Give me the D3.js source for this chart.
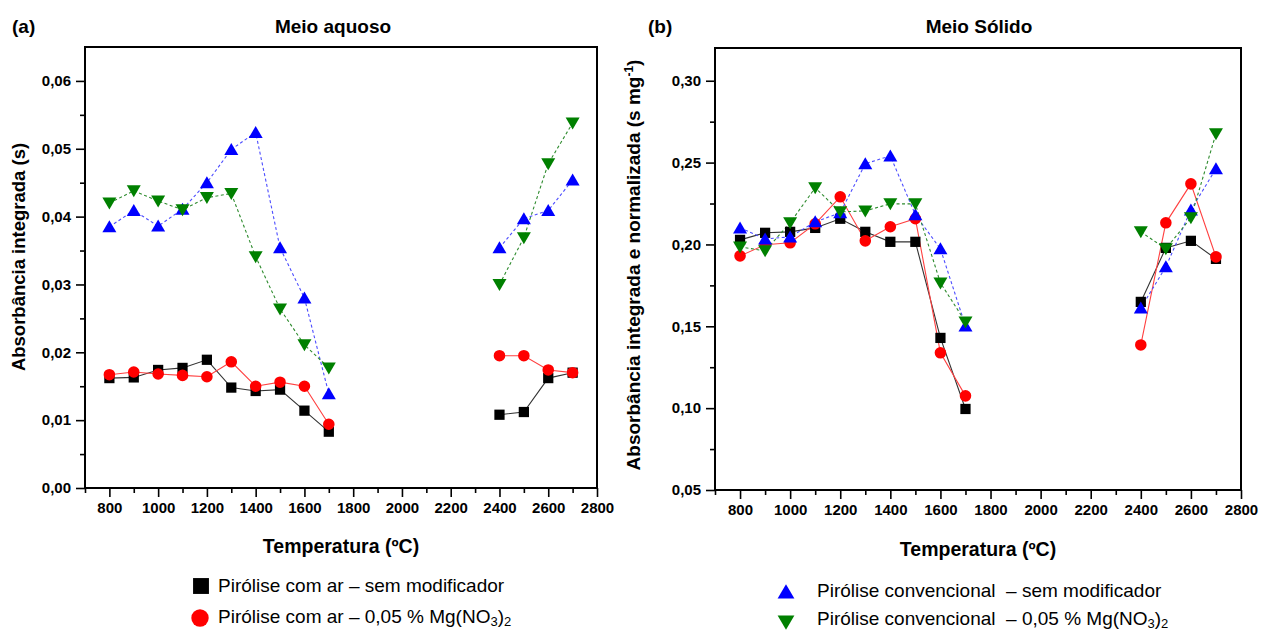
<!DOCTYPE html>
<html>
<head>
<meta charset="utf-8">
<script src="https://cdn.jsdelivr.net/npm/d3@7"></script>
<style>
  html, body { margin: 0; padding: 0; background: #fff; }
  svg { display: block; font-family: "Liberation Sans", Arial, sans-serif; }
  text { white-space: pre; }
</style>
</head>
<body>
<svg id="chart" width="1264" height="630"></svg>
<script>
// ---------- DATA ----------
const temperatures = [800, 900, 1000, 1100, 1200, 1300, 1400, 1500, 1600, 1700, 2400, 2500, 2600, 2700];
const xTickValues = [800, 1000, 1200, 1400, 1600, 1800, 2000, 2200, 2400, 2600, 2800];

// (a) Meio aquoso
const aqArSem    = [0.0162, 0.0163, 0.0174, 0.0177, 0.0189, 0.0148, 0.0143, 0.0145, 0.0114, 0.0083, 0.0108, 0.0112, 0.0162, 0.0170];
const aqArMg     = [0.0167, 0.0171, 0.0168, 0.0166, 0.0164, 0.0186, 0.0150, 0.0156, 0.0150, 0.0094, 0.0195, 0.0195, 0.0174, 0.0170];
const aqConvSem  = [0.0385, 0.0409, 0.0386, 0.0411, 0.0450, 0.0499, 0.0524, 0.0354, 0.0280, 0.0139, 0.0354, 0.0397, 0.0409, 0.0454];
const aqConvMg   = [0.0420, 0.0438, 0.0423, 0.0410, 0.0428, 0.0434, 0.0341, 0.0264, 0.0211, 0.0177, 0.0300, 0.0369, 0.0478, 0.0538];
const aqYTicks   = [0.00, 0.01, 0.02, 0.03, 0.04, 0.05, 0.06];

// (b) Meio Sólido
const solArSem   = [0.2028, 0.2071, 0.2077, 0.2101, 0.2157, 0.2077, 0.2016, 0.2016, 0.1429, 0.0995, 0.1649, 0.1979, 0.2022, 0.1912];
const solArMg    = [0.1930, 0.1998, 0.2010, 0.2126, 0.2291, 0.2022, 0.2108, 0.2157, 0.1338, 0.1075, 0.1386, 0.2132, 0.2370, 0.1924];
const solConvSem = [0.2101, 0.2034, 0.2046, 0.2138, 0.2193, 0.2493, 0.2541, 0.2181, 0.1973, 0.1502, 0.1612, 0.1863, 0.2211, 0.2462];
const solConvMg  = [0.1985, 0.1961, 0.2132, 0.2346, 0.2199, 0.2205, 0.2248, 0.2248, 0.1765, 0.1527, 0.2077, 0.1973, 0.2163, 0.2676];
const solYTicks  = [0.05, 0.10, 0.15, 0.20, 0.25, 0.30];

const seriesNames = [
  "Pirólise com ar – sem modificador",
  "Pirólise com ar – 0,05 % Mg(NO3)2",
  "Pirólise convencional  – sem modificador",
  "Pirólise convencional  – 0,05 % Mg(NO3)2"
];

// ---------- STYLES ----------
const styles = [
  { marker: "square",   fill: "#000000", line: "#333333", dash: null,    legendScale: 1.55 },
  { marker: "circle",   fill: "#ff0000", line: "#ff4040", dash: null,    legendScale: 1.5 },
  { marker: "triUp",    fill: "#0000ff", line: "#4d4dff", dash: "3,2.5", legendScale: 1.2 },
  { marker: "triDown",  fill: "#008000", line: "#2e8b2e", dash: "3,2.5", legendScale: 1.2 }
];

const svg = d3.select("#chart");
const fmt = v => d3.format(".2f")(v).replace(".", ",");

function markerPath(type, s = 1) {
  if (type === "square") return d3.symbol(d3.symbolSquare, 105 * s * s)();
  if (type === "circle") return d3.symbol(d3.symbolCircle, 105 * s * s)();
  if (type === "triUp")  return `M0,${-6.5 * s}L${7 * s},${5.5 * s}L${-7 * s},${5.5 * s}Z`;
  return `M0,${6.5 * s}L${7 * s},${-5.5 * s}L${-7 * s},${-5.5 * s}Z`;
}

function segments(values) {
  const pts = temperatures.map((t, i) => ({ t, v: values[i] }));
  const segs = [[pts[0]]];
  for (let i = 1; i < pts.length; i++) {
    if (pts[i].t - pts[i - 1].t > 100) segs.push([]);
    segs[segs.length - 1].push(pts[i]);
  }
  return segs;
}

function panel(cfg) {
  const x = d3.scaleLinear().domain([700, 2800]).range([cfg.left, cfg.right]);
  const y = d3.scaleLinear().domain(cfg.yDomain).range([cfg.bottom, cfg.top]);
  const g = svg.append("g");

  // frame
  g.append("rect")
    .attr("x", cfg.left).attr("y", cfg.top)
    .attr("width", cfg.right - cfg.left).attr("height", cfg.bottom - cfg.top)
    .attr("fill", "none").attr("stroke", "#000").attr("stroke-width", 2);

  // x axis major + minor
  const xMinor = d3.range(700, 2801, 100).filter(v => !xTickValues.includes(v));
  g.append("g").attr("transform", `translate(0,${cfg.bottom})`)
    .call(d3.axisBottom(x).tickValues(xMinor).tickSize(5).tickFormat(""))
    .call(a => a.select(".domain").remove())
    .call(a => a.selectAll("line").attr("stroke-width", 1.6));
  g.append("g").attr("transform", `translate(0,${cfg.bottom})`)
    .call(d3.axisBottom(x).tickValues(xTickValues).tickSize(9).tickPadding(5).tickFormat(d3.format("d")))
    .call(a => a.select(".domain").remove())
    .call(a => a.selectAll("line").attr("stroke-width", 1.6))
    .call(a => a.selectAll("text").attr("font-size", 15).attr("font-weight", "bold").attr("fill", "#000")
      .attr("font-family", "Liberation Sans, Arial, sans-serif"));

  // y axis
  g.append("g").attr("transform", `translate(${cfg.left},0)`)
    .call(d3.axisLeft(y).tickValues(cfg.yMinor).tickSize(5).tickFormat(""))
    .call(a => a.select(".domain").remove())
    .call(a => a.selectAll("line").attr("stroke-width", 1.6));
  g.append("g").attr("transform", `translate(${cfg.left},0)`)
    .call(d3.axisLeft(y).tickValues(cfg.yTicks).tickSize(9).tickPadding(5).tickFormat(fmt))
    .call(a => a.select(".domain").remove())
    .call(a => a.selectAll("line").attr("stroke-width", 1.6))
    .call(a => a.selectAll("text").attr("font-size", 15).attr("font-weight", "bold").attr("fill", "#000")
      .attr("font-family", "Liberation Sans, Arial, sans-serif"));

  // series
  const line = d3.line().x(d => x(d.t)).y(d => y(d.v));
  cfg.series.forEach((vals, si) => {
    const st = styles[si];
    segments(vals).forEach(seg => {
      g.append("path").attr("d", line(seg))
        .attr("fill", "none").attr("stroke", st.line).attr("stroke-width", 1.1)
        .attr("stroke-dasharray", st.dash);
    });
  });
  cfg.series.forEach((vals, si) => {
    const st = styles[si];
    g.append("g").selectAll("path").data(temperatures.map((t, i) => ({ t, v: vals[i] })))
      .join("path")
      .attr("d", markerPath(st.marker))
      .attr("transform", d => `translate(${x(d.t)},${y(d.v)})`)
      .attr("fill", st.fill);
  });

  // titles
  svg.append("text").attr("x", cfg.labelX).attr("y", 33).attr("font-size", 19)
    .attr("font-weight", "bold").text(cfg.label);
  svg.append("text").attr("x", cfg.titleX).attr("y", 33).attr("font-size", 19)
    .attr("font-weight", "bold").attr("text-anchor", "middle").text(cfg.title);
  svg.append("text").attr("x", cfg.xTitleX).attr("y", cfg.xTitleY).attr("font-size", 19.5)
    .attr("font-weight", "bold").attr("text-anchor", "middle").text("Temperatura (ºC)");

  const yt = svg.append("text")
    .attr("transform", `translate(${cfg.yTitleX},${cfg.yTitleY}) rotate(-90)`)
    .attr("font-size", cfg.yTitleSize).attr("font-weight", "bold").attr("text-anchor", "middle");
  cfg.yTitle(yt);
}

panel({
  left: 85, right: 597, top: 47, bottom: 488,
  yDomain: [0, 0.065], yTicks: aqYTicks, yMinor: d3.range(0.005, 0.065, 0.01),
  series: [aqArSem, aqArMg, aqConvSem, aqConvMg],
  label: "(a)", labelX: 12, title: "Meio aquoso", titleX: 333,
  xTitleX: 341, xTitleY: 553, yTitleX: 25, yTitleY: 257, yTitleSize: 18.5,
  yTitle: t => t.text("Absorbância integrada (s)")
});

panel({
  left: 715, right: 1241, top: 48, bottom: 490,
  yDomain: [0.05, 0.32], yTicks: solYTicks, yMinor: d3.range(0.075, 0.32, 0.05),
  series: [solArSem, solArMg, solConvSem, solConvMg],
  label: "(b)", labelX: 648, title: "Meio Sólido", titleX: 979,
  xTitleX: 978, xTitleY: 556, yTitleX: 640, yTitleY: 265, yTitleSize: 19,
  yTitle: t => {
    t.append("tspan").text("Absorbância integrada e normalizada (s mg");
    t.append("tspan").attr("dy", -7).attr("font-size", 12).text("-1");
    t.append("tspan").attr("dy", 7).text(")");
  }
});

// ---------- LEGENDS ----------
function legendItem(mx, my, tx, ty, si, name) {
  svg.append("path").attr("d", markerPath(styles[si].marker, styles[si].legendScale))
    .attr("transform", `translate(${mx},${my})`).attr("fill", styles[si].fill);
  const t = svg.append("text").attr("x", tx).attr("y", ty).attr("font-size", 19)
    .attr("xml:space", "preserve");
  const m = name.match(/^(.*)Mg\(NO3\)2$/);
  if (m) {
    t.append("tspan").text(m[1] + "Mg(NO");
    t.append("tspan").attr("dy", 3).attr("font-size", 13).text("3");
    t.append("tspan").attr("dy", -3).text(")");
    t.append("tspan").attr("dy", 3).attr("font-size", 13).text("2");
  } else {
    t.text(name);
  }
}
legendItem(201, 586, 218, 592, 0, seriesNames[0]);
legendItem(200, 618, 218, 623, 1, seriesNames[1]);
legendItem(786, 592, 817, 597, 2, seriesNames[2]);
legendItem(786, 622, 817, 625, 3, seriesNames[3]);
</script>
</body>
</html>
